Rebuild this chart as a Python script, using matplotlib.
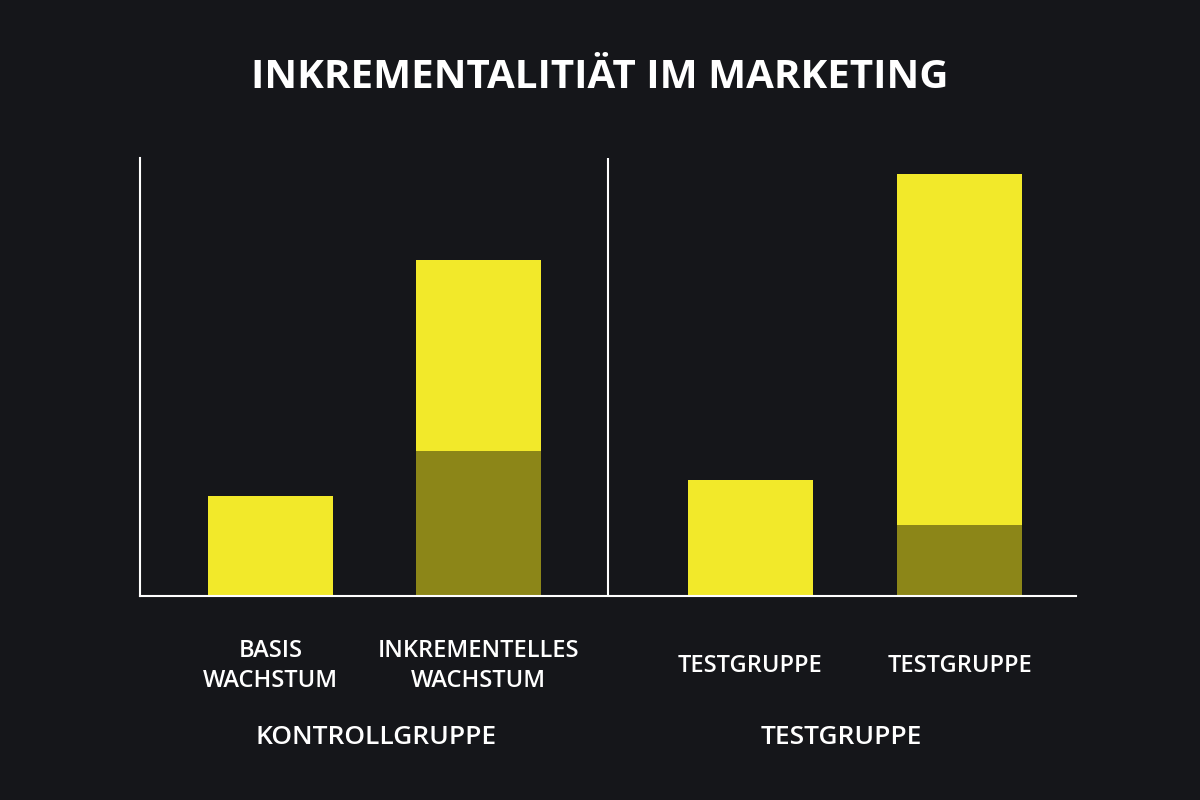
import matplotlib
matplotlib.use("Agg")
import matplotlib.pyplot as plt

# data (pixel-ish units)
bar_labels = ["BASIS\nWACHSTUM", "INKREMENTELLES\nWACHSTUM", "TESTGRUPPE", "TESTGRUPPE"]
bar_x = [130.5, 338.5, 610.5, 819.5]
base_part = [100, 145, 116, 71]       # dark lower part (or full bar for plain ones)
incr_part = [0, 191, 0, 351]          # bright upper part
is_plain = [True, False, True, False]
group_labels = ["KONTROLLGRUPPE", "TESTGRUPPE"]
group_x = [236, 701]

bg = "#15161a"
yellow = "#f2e92a"
olive = "#8c8618"

plt.rcParams['font.family'] = ['Open Sans', 'DejaVu Sans']
fig = plt.figure(figsize=(12, 8), dpi=100, facecolor=bg)
ax = fig.add_axes([140/1200, 204/800, 936/1200, 438/800], facecolor=bg)

for x, b, inc, plain in zip(bar_x, base_part, incr_part, is_plain):
    if plain:
        ax.bar(x, b, width=125, color=yellow)
    else:
        ax.bar(x, b, width=125, color=olive)
        ax.bar(x, inc, bottom=b, width=125, color=yellow)

ax.set_xlim(0, 936)
ax.set_ylim(0, 438)
ax.axvline(468, color="white", lw=1.5)
for s in ["top", "right"]:
    ax.spines[s].set_visible(False)
for s in ["left", "bottom"]:
    ax.spines[s].set_color("white")
    ax.spines[s].set_linewidth(1.5)
ax.set_xticks([])
ax.set_yticks([])

for x, lab in zip(bar_x, bar_labels):
    ax.text(x, -70, lab, ha="center", va="center", color="white",
            fontsize=17, fontweight="semibold", linespacing=1.3)
for x, lab in zip(group_x, group_labels):
    ax.text(x, -141, lab, ha="center", va="center", color="white",
            fontsize=19, fontweight="semibold")

fig.text(0.5, 1 - 78/800, "INKREMENTALITIÄT IM MARKETING", ha="center", va="center",
         color="white", fontsize=29, fontweight="bold")

fig.savefig("out.png", facecolor=bg)
